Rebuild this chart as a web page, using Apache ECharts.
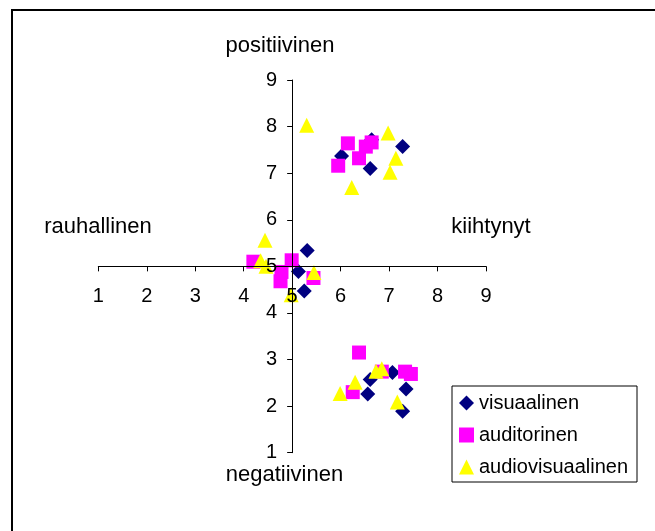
<!DOCTYPE html>
<html>
<head>
<meta charset="utf-8">
<script src="https://cdn.jsdelivr.net/npm/echarts@6/dist/echarts.min.js"></script>
<style>
html,body{margin:0;padding:0;background:#fff;}
#c{width:655px;height:531px;}
</style>
</head>
<body>
<div id="c"></div>
<script>
// ---- data ----
const seriesNames = ['visuaalinen', 'auditorinen', 'audiovisuaalinen'];
const visuaalinen = [
  [6.64, 7.72], [7.28, 7.57], [6.02, 7.37], [6.61, 7.10],
  [5.31, 5.34], [5.13, 4.89], [5.25, 4.47],
  [6.61, 2.57], [7.07, 2.72], [6.56, 2.26], [7.35, 2.37], [7.28, 1.89]
];
const auditorinen = [
  [6.15, 7.64], [6.64, 7.66], [6.52, 7.57], [6.38, 7.32], [5.95, 7.16],
  [4.20, 5.10], [4.99, 5.13], [4.78, 4.88], [4.76, 4.68], [5.44, 4.75],
  [6.38, 3.15], [6.25, 2.30], [6.85, 2.74], [7.33, 2.74], [7.45, 2.69]
];
const audiovisuaalinen = [
  [5.30, 8.03], [6.98, 7.86], [7.14, 7.32], [7.02, 7.02], [6.23, 6.69],
  [4.44, 5.56], [4.35, 5.12], [4.46, 5.00], [5.45, 4.87], [4.98, 4.39],
  [5.99, 2.27], [6.30, 2.51], [6.73, 2.75], [6.85, 2.80], [7.17, 2.09]
];
const axisMin = 1, axisMax = 9, axisStep = 1;
const axisTitles = { top: 'positiivinen', bottom: 'negatiivinen', left: 'rauhallinen', right: 'kiihtynyt' };

// ---- layout ----
const FONT = '"Liberation Sans", Arial, sans-serif';
const L = 98.3, T = 80, W = 387.7, H = 372.7;
const cx = L + W * (5 - axisMin) / (axisMax - axisMin);
const cy = T + H * (axisMax - 5) / (axisMax - axisMin);

const chart = echarts.init(document.getElementById('c'), null, { renderer: 'canvas' });

const hiddenAxis = (gi) => ({ gridIndex: gi, type: 'value', min: axisMin, max: axisMax, show: false });

chart.setOption({
  backgroundColor: '#ffffff',
  animation: false,
  textStyle: { fontFamily: FONT },
  grid: [
    { left: L, top: T, width: W, height: H },
    { left: L, top: T, width: W, height: cy - T },
    { left: cx, top: T, width: L + W - cx, height: H }
  ],
  xAxis: [
    hiddenAxis(0),
    {
      gridIndex: 1, type: 'value', min: axisMin, max: axisMax, interval: axisStep,
      position: 'bottom', z: 3,
      axisLine: { show: true, lineStyle: { color: '#000', width: 1 } },
      axisTick: { show: true, length: 5, lineStyle: { color: '#000' } },
      axisLabel: { color: '#000', fontSize: 20, fontFamily: FONT, margin: 20 },
      splitLine: { show: false }
    },
    hiddenAxis(2)
  ],
  yAxis: [
    hiddenAxis(0),
    hiddenAxis(1),
    {
      gridIndex: 2, type: 'value', min: axisMin, max: axisMax, interval: axisStep,
      position: 'left', z: 3,
      axisLine: { show: true, lineStyle: { color: '#000', width: 1 } },
      axisTick: { show: true, length: 5, lineStyle: { color: '#000' } },
      axisLabel: { color: '#000', fontSize: 20, fontFamily: FONT, margin: 15 },
      splitLine: { show: false }
    }
  ],
  legend: {
    orient: 'vertical',
    left: 452, top: 386,
    padding: [7, 9, 5, 7],
    itemGap: 12,
    itemWidth: 15, itemHeight: 15,
    itemStyle: { borderWidth: 0 },
    borderColor: '#000', borderWidth: 1,
    textStyle: { color: '#000', fontSize: 20, fontFamily: FONT },
    data: seriesNames
  },
  series: [
    { name: seriesNames[0], type: 'scatter', xAxisIndex: 0, yAxisIndex: 0,
      symbol: 'diamond', symbolSize: 15, itemStyle: { color: '#000080', opacity: 1 }, data: visuaalinen },
    { name: seriesNames[1], type: 'scatter', xAxisIndex: 0, yAxisIndex: 0,
      symbol: 'rect', symbolSize: 14, itemStyle: { color: '#FF00FF', opacity: 1 }, data: auditorinen },
    { name: seriesNames[2], type: 'scatter', xAxisIndex: 0, yAxisIndex: 0,
      symbol: 'triangle', symbolSize: 15, itemStyle: { color: '#FFFF00', opacity: 1 }, data: audiovisuaalinen }
  ],
  graphic: [
    { type: 'rect', silent: true, z: 100,
      shape: { x: 12, y: 10, width: 700, height: 600 },
      style: { fill: 'none', stroke: '#000', lineWidth: 2 } },
    { type: 'text', x: 280, y: 46, silent: true,
      style: { text: axisTitles.top, font: '22px ' + FONT, fill: '#000', textAlign: 'center', textVerticalAlign: 'middle' } },
    { type: 'text', x: 284.5, y: 475, silent: true,
      style: { text: axisTitles.bottom, font: '22px ' + FONT, fill: '#000', textAlign: 'center', textVerticalAlign: 'middle' } },
    { type: 'text', x: 98, y: 227, silent: true,
      style: { text: axisTitles.left, font: '22px ' + FONT, fill: '#000', textAlign: 'center', textVerticalAlign: 'middle' } },
    { type: 'text', x: 491, y: 227, silent: true,
      style: { text: axisTitles.right, font: '22px ' + FONT, fill: '#000', textAlign: 'center', textVerticalAlign: 'middle' } }
  ]
});
</script>
</body>
</html>
